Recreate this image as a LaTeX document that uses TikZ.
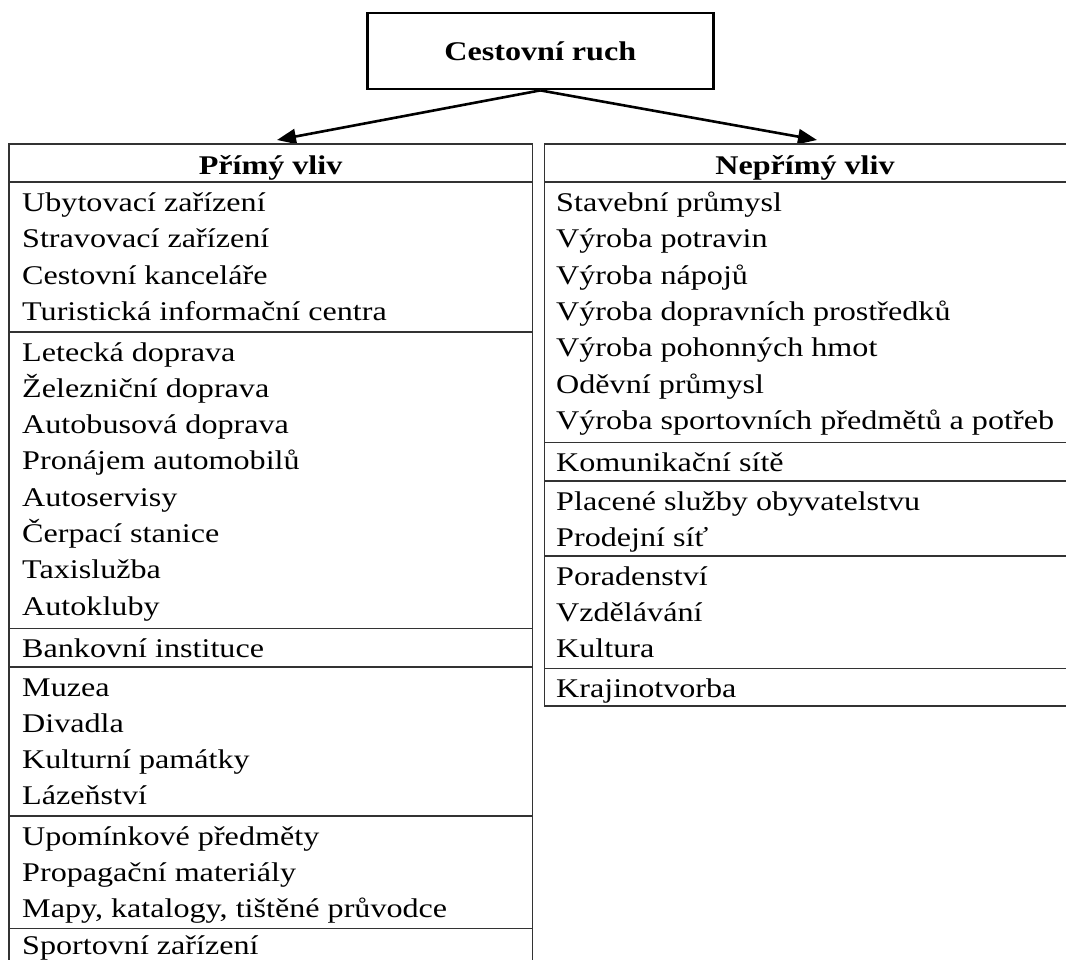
\documentclass[tikz,border=0pt]{standalone}
\usepackage{fontspec}
\setmainfont{Liberation Serif}[FakeStretch=1.19]
\usetikzlibrary{arrows.meta}
\begin{document}
\begin{tikzpicture}[x=1pt,y=-1pt,
  tline/.style={line width=1.6pt, draw=black!80},
  boxline/.style={line width=2.8pt, draw=black},
  arr/.style={line width=2.6pt, -{Triangle[length=19pt,width=15pt]}},
  item/.style={anchor=base west, inner sep=0pt, font=\fontsize{27}{32}\selectfont},
  hdr/.style={anchor=base, inner sep=0pt, font=\fontsize{27}{32}\selectfont\bfseries},
]
\useasboundingbox (0,0) rectangle (1066,960);

% top box
\node[boxline, minimum width=346pt, minimum height=76pt, inner sep=0pt,
      font=\fontsize{27}{32}\selectfont\bfseries] (top) at (540.3,51) {Cestovní ruch};

% headers
\node[hdr] (hdrL) at (270.6,175) {Přímý vliv};
\node[hdr] (hdrR) at (805,175) {Nepřímý vliv};
\coordinate (tipL) at (277,140);
\coordinate (tipR) at (817,140);
\draw[arr] (top.south) -- (tipL);
\draw[arr] (top.south) -- (tipR);

% left table frame
\draw[tline] (9,962) -- (9,144) -- (532.3,144) -- (532.3,962);
\foreach \y in {182.3,331.7,628.3,666.7,815.7,928.3}
  \draw[tline] (9,\y) -- (532.3,\y);

% right table frame
\draw[tline] (1068,144) -- (544.3,144) -- (544.3,705.7) -- (1068,705.7);
\foreach \y in {182.3,442.3,480.7,556,668.3}
  \draw[tline] (544.3,\y) -- (1068,\y);

% left items
\node[item] (l1) at (22,211.6) {Ubytovací zařízení};
\node[item] (l2) at (22,247.9) {Stravovací zařízení};
\node[item] (l3) at (22,284.2) {Cestovní kanceláře};
\node[item] (l4) at (22,320.5) {Turistická informační centra};
\node[item] (l5) at (22,361.0) {Letecká doprava};
\node[item] (l6) at (22,397.3) {Železniční doprava};
\node[item] (l7) at (22,433.6) {Autobusová doprava};
\node[item] (l8) at (22,469.9) {Pronájem automobilů};
\node[item] (l9) at (22,506.2) {Autoservisy};
\node[item] (l10) at (22,542.5) {Čerpací stanice};
\node[item] (l11) at (22,578.8) {Taxislužba};
\node[item] (l12) at (22,615.1) {Autokluby};
\node[item] (l13) at (22,657.6) {Bankovní instituce};
\node[item] (l14) at (22,696.0) {Muzea};
\node[item] (l15) at (22,732.3) {Divadla};
\node[item] (l16) at (22,768.6) {Kulturní památky};
\node[item] (l17) at (22,804.9) {Lázeňství};
\node[item] (l18) at (22,845.0) {Upomínkové předměty};
\node[item] (l19) at (22,881.3) {Propagační materiály};
\node[item] (l20) at (22,917.6) {Mapy, katalogy, tištěné průvodce};
\node[item] (l21) at (22,954) {Sportovní zařízení};

% right items
\node[item] (r1) at (556,211.6) {Stavební průmysl};
\node[item] (r2) at (556,247.9) {Výroba potravin};
\node[item] (r3) at (556,284.2) {Výroba nápojů};
\node[item] (r4) at (556,320.5) {Výroba dopravních prostředků};
\node[item] (r5) at (556,356.8) {Výroba pohonných hmot};
\node[item] (r6) at (556,393.1) {Oděvní průmysl};
\node[item] (r7) at (556,429.4) {Výroba sportovních předmětů a potřeb};
\node[item] (r8) at (556,471.6) {Komunikační sítě};
\node[item] (r9) at (556,510.0) {Placené služby obyvatelstvu};
\node[item] (r10) at (556,546.3) {Prodejní síť};
\node[item] (r11) at (556,585.3) {Poradenství};
\node[item] (r12) at (556,621.6) {Vzdělávání};
\node[item] (r13) at (556,657.9) {Kultura};
\node[item] (r14) at (556,697.6) {Krajinotvorba};
\end{tikzpicture}
\end{document}
